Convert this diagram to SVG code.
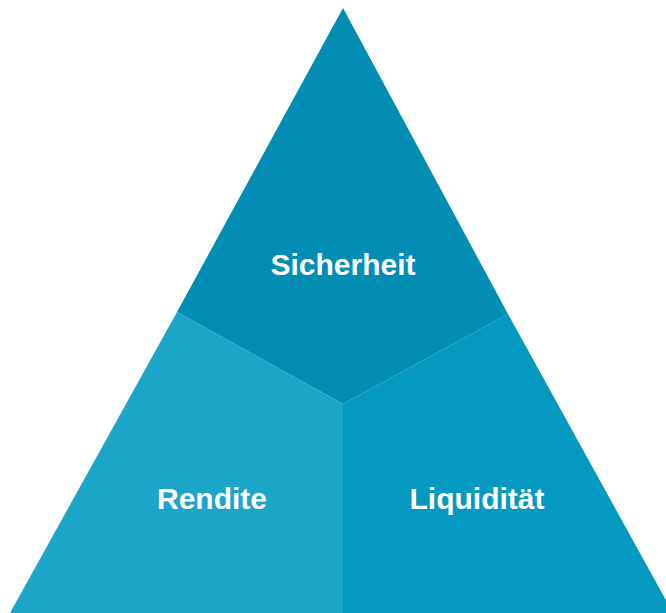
<svg xmlns="http://www.w3.org/2000/svg" width="666" height="613" viewBox="0 0 666 613">
<style>
.lbl{font-family:"Liberation Sans",Arial,sans-serif;font-weight:bold;font-size:30px;fill:#ffffff;text-anchor:middle}
</style>
<rect width="666" height="613" fill="#ffffff"/>
<g id="sicherheit">
<polygon points="343,8 177,312 343,404 508,314" fill="#018DB4"/>
<text class="lbl" x="343" y="275">Sicherheit</text>
</g>
<g id="rendite">
<polygon points="177,312 343,404 343,613 10,613" fill="#1BA5C8"/>
<text class="lbl" x="212" y="509">Rendite</text>
</g>
<g id="liquiditaet">
<polygon points="508,314 343,404 343,613 673,613" fill="#0399C0"/>
<text class="lbl" x="477" y="509">Liquidität</text>
</g>
<g id="connectors"/>
</svg>
